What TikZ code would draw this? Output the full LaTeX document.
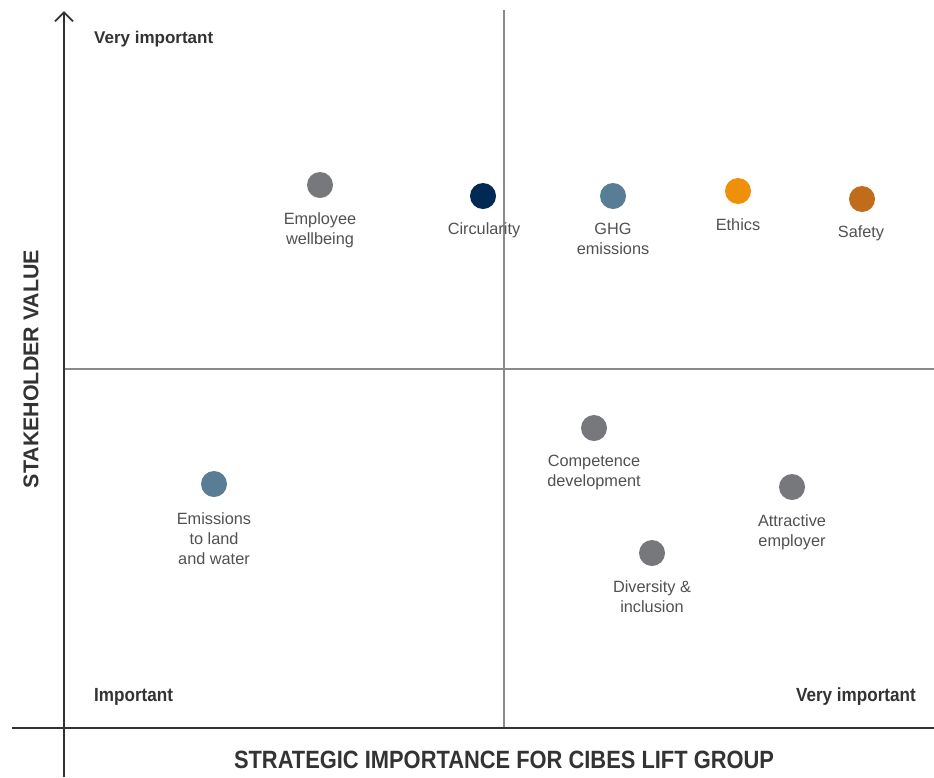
\documentclass[tikz,border=0pt]{standalone}
\usepackage{fontspec}
\setmainfont{Liberation Sans}
\usetikzlibrary{arrows.meta}
\definecolor{dotgray}{HTML}{76787B}
\definecolor{navy}{HTML}{002A54}
\definecolor{steel}{HTML}{5A7D96}
\definecolor{orng}{HTML}{F0900A}
\definecolor{dorng}{HTML}{C06C1C}
\definecolor{txtgray}{HTML}{505153}
\definecolor{axis}{HTML}{333333}
\definecolor{grid}{HTML}{8A8A8A}
\tikzset{
  dot/.style={circle, fill=#1, minimum size=26pt, inner sep=0pt},
  lbl/.style={text=txtgray, font=\fontsize{16.3}{20}\selectfont, align=center, inner sep=0pt, anchor=north},
  corner/.style={text=axis, font=\bfseries\fontsize{17}{20}\selectfont, inner sep=0pt},
  axtitle/.style={text=axis, font=\bfseries\fontsize{21.4}{24}\selectfont, inner sep=0pt},
  axisline/.style={draw=axis, line width=1.8pt},
  gridline/.style={draw=grid, line width=1.2pt}
}
\begin{document}
\begin{tikzpicture}[x=1pt,y=-1pt]
\useasboundingbox[fill=white] (0,0) rectangle (934,777);
% grid
\coordinate (gt) at (504,10);
\coordinate (gb) at (504,728);
\coordinate (gl) at (64,369);
\coordinate (gr) at (934,369);
\draw[gridline] (gt) -- (gb);
\draw[gridline] (gl) -- (gr);
% axes
\coordinate (yb) at (64,777);
\coordinate (yt) at (64,11);
\coordinate (xl) at (12,728);
\coordinate (xr) at (934,728);
\draw[axisline] (xl) -- (xr);
\draw[axisline, -{Straight Barb[length=9pt,width=18pt,line width=1.8pt]}] (yb) -- (yt);
% corner labels
\node[corner, anchor=west] (vi1) at (94,39) {Very important};
\node[corner, anchor=west] (imp) at (94,697) {\fontsize{19}{20}\selectfont\scalebox{0.9}[1]{Important}};
\node[corner, anchor=east] (vi2) at (916,697) {\fontsize{19}{20}\selectfont\scalebox{0.9}[1]{Very important}};
% axis titles
\node[axtitle, rotate=90] (sv) at (31,369) {STAKEHOLDER VALUE};
\node[axtitle] (st) at (504,760) {\scalebox{0.875}[1]{\fontsize{25}{28}\selectfont STRATEGIC IMPORTANCE FOR CIBES LIFT GROUP}};
% dots
\node[dot=dotgray] (ew) at (320,185) {};
\node[dot=navy] (ci) at (483,196) {};
\node[dot=steel] (ghg) at (613,196) {};
\node[dot=orng] (et) at (738,191) {};
\node[dot=dorng] (sa) at (862,199) {};
\node[dot=dotgray] (cd) at (594,428) {};
\node[dot=steel] (el) at (214,484) {};
\node[dot=dotgray] (ae) at (792,487) {};
\node[dot=dotgray] (di) at (652,553) {};
% labels
\node[lbl] (ewl) at (320,212) {Employee\\wellbeing};
\node[lbl] (cil) at (484,222) {Circularity};
\node[lbl] (ghgl) at (613,223) {GHG\\emissions};
\node[lbl] (etl) at (738,218) {Ethics};
\node[lbl] (sal) at (861,225) {Safety};
\node[lbl] (cdl) at (594,455) {Competence\\development};
\node[lbl] (ell) at (214,512) {Emissions\\to land\\and water};
\node[lbl] (ael) at (792,514) {Attractive\\employer};
\node[lbl] (dil) at (652,580) {Diversity \&\\inclusion};
\end{tikzpicture}
\end{document}
